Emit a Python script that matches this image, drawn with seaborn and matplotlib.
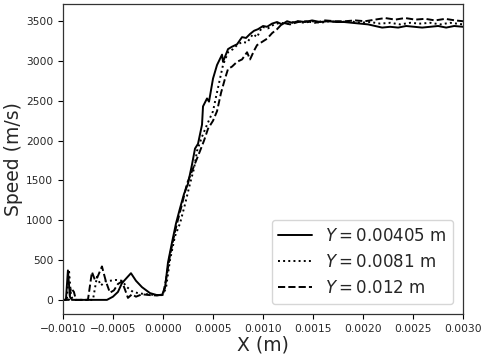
import pandas as pd
import matplotlib
matplotlib.use("Agg")
import matplotlib.pyplot as plt
import matplotlib.ticker as mticker
import seaborn as sns

# ------------------------------------------------------------------
# Data (X in m, speed in m/s)
# ------------------------------------------------------------------
x_a = [-0.00100, -0.00097, -0.00095, -0.00093, -0.00091, -0.00056, -0.00050,
       -0.00045, -0.00041, -0.00036, -0.00032, -0.00027, -0.00021, -0.00013,
       -0.00006, -0.00001, 0.00002, 0.00005, 0.00009, 0.00013, 0.00017,
       0.00021, 0.00025, 0.00029, 0.00032, 0.00035, 0.00039, 0.00040, 0.00044,
       0.00046, 0.00050, 0.00054, 0.00059, 0.00060, 0.00065, 0.00069, 0.00074,
       0.00079, 0.00083, 0.00087, 0.00091, 0.00095, 0.00100, 0.00104, 0.00109,
       0.00114, 0.00119, 0.00124, 0.00129, 0.00135, 0.00142, 0.00149, 0.00157,
       0.00165, 0.00173, 0.00181, 0.00189, 0.00197, 0.00205, 0.00212, 0.00219,
       0.00227, 0.00235, 0.00243, 0.00251, 0.00259, 0.00267, 0.00275, 0.00283,
       0.00291, 0.00300]
v_a = [0, 0, 370, 40, 0, 0, 40,
       100, 210, 280, 335, 240, 160, 85,
       60, 60, 150, 470, 720, 960, 1150,
       1330, 1460, 1700, 1900, 1960, 2200, 2430, 2530,
       2490, 2780, 2950, 3080, 2990, 3150, 3180, 3210,
       3300, 3290, 3340, 3380, 3400, 3440, 3430, 3470,
       3490, 3460, 3500, 3480, 3500, 3490, 3510, 3490,
       3500, 3490, 3490, 3480, 3470, 3460, 3440, 3420,
       3430, 3420, 3440, 3430, 3420, 3430, 3440, 3420,
       3440, 3430]

x_b = [-0.00100, -0.00096, -0.00094, -0.00092, -0.00090, -0.00070, -0.00066,
       -0.00062, -0.00058, -0.00053, -0.00047, -0.00041, -0.00036, -0.00030,
       -0.00023, -0.00015, -0.00007, 0.00000, 0.00003, 0.00007, 0.00012,
       0.00017, 0.00022, 0.00027, 0.00031, 0.00034, 0.00039, 0.00044, 0.00050,
       0.00053, 0.00057, 0.00060, 0.00065, 0.00070, 0.00074, 0.00079, 0.00084,
       0.00090, 0.00094, 0.00099, 0.00105, 0.00111, 0.00117, 0.00125, 0.00133,
       0.00141, 0.00149, 0.00157, 0.00167, 0.00177, 0.00187, 0.00197, 0.00207,
       0.00217, 0.00227, 0.00237, 0.00247, 0.00257, 0.00267, 0.00277, 0.00287,
       0.00300]
v_b = [0, 0, 380, 60, 0, 0, 290,
       180, 230, 240, 250, 240, 160, 100,
       80, 70, 60, 65, 150, 500, 800,
       960, 1200, 1460, 1650, 1870, 2050, 2200, 2370,
       2550, 2780, 2950, 3110, 3150, 3200, 3240, 3230,
       3340, 3300, 3430, 3410, 3460, 3480, 3470, 3500,
       3480, 3500, 3480, 3500, 3490, 3500, 3480, 3490,
       3470, 3480, 3460, 3480, 3470, 3480, 3460, 3480,
       3460]

x_c = [-0.00100, -0.00094, -0.00092, -0.00089, -0.00087, -0.00075, -0.00071,
       -0.00068, -0.00065, -0.00061, -0.00057, -0.00053, -0.00049, -0.00045,
       -0.00041, -0.00038, -0.00035, -0.00031, -0.00027, -0.00021, -0.00013,
       -0.00006, 0.00000, 0.00003, 0.00007, 0.00011, 0.00014, 0.00019, 0.00024,
       0.00030, 0.00037, 0.00041, 0.00045, 0.00050, 0.00054, 0.00058, 0.00062,
       0.00065, 0.00069, 0.00074, 0.00079, 0.00084, 0.00087, 0.00091, 0.00094,
       0.00099, 0.00104, 0.00109, 0.00114, 0.00120, 0.00127, 0.00135, 0.00143,
       0.00152, 0.00162, 0.00172, 0.00182, 0.00192, 0.00202, 0.00212, 0.00222,
       0.00232, 0.00242, 0.00252, 0.00262, 0.00272, 0.00282, 0.00292, 0.00300]
v_c = [0, 0, 150, 100, 0, 0, 350,
       250, 300, 420, 230, 90, 120, 200,
       230, 130, 25, 70, 40, 70, 60,
       55, 70, 250, 560, 800, 960, 1200, 1460,
       1650, 1870, 2000, 2150, 2250, 2370, 2600, 2780,
       2900, 2930, 2990, 3020, 3110, 3020, 3130, 3200,
       3240, 3280, 3350, 3400, 3480, 3460, 3490, 3500,
       3480, 3510, 3500, 3500, 3510, 3500, 3520, 3540,
       3520, 3540, 3520, 3530, 3510, 3530, 3510, 3500]

labels = [r"$Y = 0.00405$ m", r"$Y = 0.0081$ m", r"$Y = 0.012$ m"]
styles = ["-", ":", "--"]
x_ticks = [-0.0010, -0.0005, 0.0000, 0.0005, 0.0010, 0.0015, 0.0020, 0.0025, 0.0030]
y_ticks = [0, 500, 1000, 1500, 2000, 2500, 3000, 3500]

sns.set_style("ticks")

fig = plt.figure(figsize=(4.84, 3.58), dpi=100)
ax = fig.add_axes([0.130, 0.123, 0.827, 0.866])

for xs, vs, lab, ls in zip([x_a, x_b, x_c], [v_a, v_b, v_c], labels, styles):
    df = pd.DataFrame({"x": xs, "speed": vs})
    sns.lineplot(data=df, x="x", y="speed", ax=ax, color="black",
                 linestyle=ls, linewidth=1.4, label=lab, estimator=None)

ax.set_xlim(-0.001, 0.003)
ax.set_xticks(x_ticks)
ax.xaxis.set_major_formatter(
    mticker.FuncFormatter(lambda v, pos: f"{v:.4f}".replace("-", "\u2212")))
ax.set_yticks(y_ticks)
ax.tick_params(labelsize=7.7, length=3.5, color="black")
for sp in ax.spines.values():
    sp.set_color("#333333")
    sp.set_linewidth(0.9)

ax.set_xlabel("X (m)", fontsize=13.5, labelpad=1)
ax.set_ylabel("Speed (m/s)", fontsize=13.5, labelpad=2)

ax.legend(loc="lower right", fontsize=12, handlelength=2.0, borderaxespad=0.6)

fig.savefig("out.png", dpi=100)
